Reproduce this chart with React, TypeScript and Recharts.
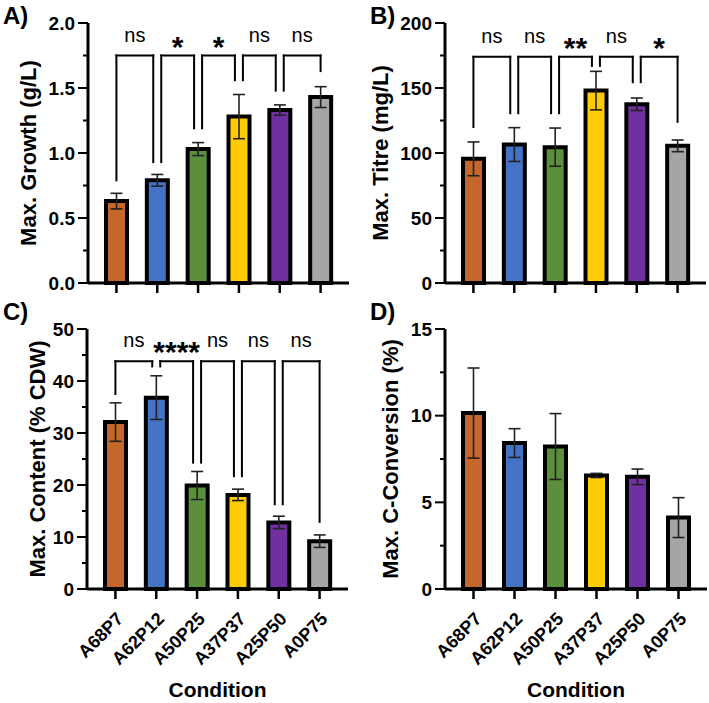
import React from "react";
import {
  BarChart,
  Bar,
  Cell,
  XAxis,
  YAxis,
  ErrorBar,
  ReferenceLine
} from "recharts";

const conditions = ["A68P7", "A62P12", "A50P25", "A37P37", "A25P50", "A0P75"];
const barColors = ["#c5672a", "#4472c4", "#5b8f3b", "#ffcb05", "#7030a0", "#a5a5a8"];

const growth = [0.63, 0.79, 1.03, 1.28, 1.33, 1.43];
const growthErr = [0.06, 0.045, 0.05, 0.17, 0.04, 0.08];
const growthTicks = [0, 0.25, 0.5, 0.75, 1, 1.25, 1.5, 1.75, 2];
const growthMajor = [0, 0.5, 1, 1.5, 2];
const growthSig = ["ns", "*", "*", "ns", "ns"];
const growthLegs = [[0.79, 0.93], [0.93, 1.19], [1.19, 1.56], [1.56, 1.48], [1.48, 1.63]];
const growthTop = 1.75;

const titre = [95.5, 106.5, 104.5, 148, 137.5, 105.5];
const titreErr = [13, 13, 14.7, 14.8, 4.8, 4.5];
const titreTicks = [0, 25, 50, 75, 100, 125, 150, 175, 200];
const titreMajor = [0, 50, 100, 150, 200];
const titreSig = ["ns", "ns", "**", "ns", "*"];
const titreLegs = [[120, 130.6], [130.6, 130.6], [130.6, 167], [167, 154.5], [154.5, 124]];
const titreTop = 174;

const content = [32.1, 36.8, 19.9, 18.1, 12.8, 9.2];
const contentErr = [3.7, 4.2, 2.7, 1.1, 1.2, 1.2];
const contentTicks = [0, 5, 10, 15, 20, 25, 30, 35, 40, 45, 50];
const contentMajor = [0, 10, 20, 30, 40, 50];
const contentSig = ["ns", "****", "ns", "ns", "ns"];
const contentLegs = [[37.5, 42.8], [42.8, 24.3], [24.3, 21.7], [21.7, 16.3], [16.3, 12.9]];
const contentTop = 43.8;

const conversion = [10.15, 8.42, 8.22, 6.55, 6.47, 4.12];
const conversionErr = [2.6, 0.83, 1.9, 0.12, 0.45, 1.15];
const conversionTicks = [0, 2.5, 5, 7.5, 10, 12.5, 15];
const conversionMajor = [0, 5, 10, 15];

const FONT = "'Liberation Sans', Arial, Helvetica, sans-serif";

const makeYTick = (major: number[], digits: number) => (props: any) => {
  const { x, y, payload } = props;
  const isMajor = major.includes(payload.value);
  return (
    <g>
      <line x1={x} x2={x - (isMajor ? 10 : 5)} y1={y} y2={y} stroke="#000" strokeWidth={2} />
      {isMajor && (
        <text
          x={x - 13}
          y={y}
          textAnchor="end"
          dominantBaseline="central"
          fontFamily={FONT}
          fontWeight="bold"
          fontSize={19}
          fill="#000"
        >
          {payload.value.toFixed(digits)}
        </text>
      )}
    </g>
  );
};

const RotTick = (props: any) => {
  const { x, y, payload } = props;
  const tx = x + 9;
  const ty = y + 21;
  return (
    <text
      x={tx}
      y={ty}
      textAnchor="end"
      transform={`rotate(-45 ${tx} ${ty})`}
      fontFamily={FONT}
      fontWeight="bold"
      fontSize={18}
      fill="#000"
    >
      {payload.value}
    </text>
  );
};

const NoTick = () => <g />;

const yTitle = (text: string, dx: number) => (props: any) => {
  const { viewBox } = props;
  const cx = viewBox.x + dx;
  const cy = viewBox.y + viewBox.height / 2;
  return (
    <text
      x={cx}
      y={cy}
      transform={`rotate(-90 ${cx} ${cy})`}
      textAnchor="middle"
      dominantBaseline="central"
      fontFamily={FONT}
      fontWeight="bold"
      fontSize={22}
      fill="#000"
    >
      {text}
    </text>
  );
};

const xTitle = (props: any) => {
  const { viewBox } = props;
  return (
    <text
      x={viewBox.x + viewBox.width / 2}
      y={viewBox.y + 108}
      textAnchor="middle"
      fontFamily={FONT}
      fontWeight="bold"
      fontSize={21}
      fill="#000"
    >
      Condition
    </text>
  );
};

function bracketLines(legs: number[][], sig: string[], top: number) {
  const out: any[] = [];
  legs.forEach(([l, r], i) => {
    const a = conditions[i];
    const b = conditions[i + 1];
    const dl = i > 0 ? 4 : 0;
    const dr = i < legs.length - 1 ? -4 : 0;
    out.push(
      <ReferenceLine
        key={`l${i}`}
        segment={[{ x: a, y: l }, { x: a, y: top }]}
        shape={(p: any) => (
          <line x1={p.x1 + dl} x2={p.x2 + dl} y1={p.y1} y2={p.y2} stroke="#000" strokeWidth={2} strokeLinecap="square" />
        )}
      />
    );
    out.push(
      <ReferenceLine
        key={`r${i}`}
        segment={[{ x: b, y: r }, { x: b, y: top }]}
        shape={(p: any) => (
          <line x1={p.x1 + dr} x2={p.x2 + dr} y1={p.y1} y2={p.y2} stroke="#000" strokeWidth={2} strokeLinecap="square" />
        )}
      />
    );
    const star = sig[i] !== "ns";
    out.push(
      <ReferenceLine
        key={`h${i}`}
        segment={[{ x: a, y: top }, { x: b, y: top }]}
        shape={(p: any) => {
          const x1 = p.x1 + dl;
          const x2 = p.x2 + dr;
          return (
            <g>
              <line x1={x1} x2={x2} y1={p.y1} y2={p.y2} stroke="#000" strokeWidth={2} strokeLinecap="square" />
              <text
                x={(x1 + x2) / 2}
                y={star ? p.y1 + 1 : p.y1 - 14}
                textAnchor="middle"
                fontFamily={FONT}
                fontWeight={star ? "bold" : "normal"}
                fontSize={star ? 30 : 20}
                fill="#000"
              >
                {sig[i]}
              </text>
            </g>
          );
        }}
      />
    );
  });
  return out;
}

interface PanelProps {
  values: number[];
  errs: number[];
  domain: [number, number];
  ticks: number[];
  major: number[];
  digits: number;
  title: string;
  titleDx: number;
  width: number;
  height: number;
  margin: { top: number; right: number; left: number; bottom: number };
  yWidth: number;
  xHeight: number;
  bottom: boolean;
  legs?: number[][];
  sig?: string[];
  top?: number;
}

const Panel = (p: PanelProps) => {
  const data = conditions.map((name, i) => ({ name, v: p.values[i], e: p.errs[i] }));
  return (
    <BarChart width={p.width} height={p.height} data={data} margin={p.margin}>
      <XAxis
        dataKey="name"
        interval={0}
        height={p.xHeight}
        padding={{ left: 8, right: 8 }}
        tickSize={10}
        tickMargin={0}
        tickLine={{ stroke: "#000", strokeWidth: 2.5 }}
        axisLine={{ stroke: "#000", strokeWidth: 3 }}
        tick={p.bottom ? RotTick : NoTick}
        label={p.bottom ? xTitle : undefined}
      />
      <XAxis xAxisId="top" dataKey="name" orientation="top" height={0} tick={false} tickLine={false} axisLine={{ stroke: "#000", strokeWidth: 2 }} />
      <YAxis
        domain={p.domain}
        ticks={p.ticks}
        interval={0}
        width={p.yWidth}
        tickSize={0}
        tickMargin={0}
        tickLine={false}
        axisLine={{ stroke: "#000", strokeWidth: 3 }}
        tick={makeYTick(p.major, p.digits)}
        label={yTitle(p.title, p.titleDx)}
      />
      <YAxis yAxisId="right" orientation="right" width={0} domain={p.domain} tick={false} tickLine={false} axisLine={{ stroke: "#000", strokeWidth: 2 }} />
      <Bar dataKey="v" barSize={21} stroke="#000" strokeWidth={4} isAnimationActive={false}>
        {data.map((d, i) => (
          <Cell key={d.name} fill={barColors[i]} />
        ))}
        <ErrorBar dataKey="e" width={6} stroke="#222" strokeWidth={1.6} isAnimationActive={false} />
      </Bar>
      {p.legs && p.sig && p.top !== undefined ? bracketLines(p.legs, p.sig, p.top) : null}
    </BarChart>
  );
};

const panelLabel = (text: string, left: number, top: number) => (
  <div
    style={{
      position: "absolute",
      left,
      top,
      fontFamily: FONT,
      fontWeight: "bold",
      fontSize: 24,
      lineHeight: "24px"
    }}
  >
    {text}
  </div>
);

export default function App() {
  return (
    <div style={{ position: "absolute", left: 0, top: 0, width: 709, height: 703, background: "#fff" }}>
      <div style={{ position: "absolute", left: 0, top: 0 }}>
        <Panel
          values={growth}
          errs={growthErr}
          domain={[0, 2]}
          ticks={growthTicks}
          major={growthMajor}
          digits={1}
          title="Max. Growth (g/L)"
          titleDx={28}
          width={360}
          height={330}
          margin={{ top: 23, right: 11, left: 0, bottom: 0 }}
          yWidth={88}
          xHeight={47}
          bottom={false}
          legs={growthLegs}
          sig={growthSig}
          top={growthTop}
        />
      </div>
      <div style={{ position: "absolute", left: 350, top: 0 }}>
        <Panel
          values={titre}
          errs={titreErr}
          domain={[0, 200]}
          ticks={titreTicks}
          major={titreMajor}
          digits={0}
          title="Max. Titre (mg/L)"
          titleDx={30}
          width={359}
          height={330}
          margin={{ top: 23, right: 3, left: 0, bottom: 0 }}
          yWidth={95}
          xHeight={47}
          bottom={false}
          legs={titreLegs}
          sig={titreSig}
          top={titreTop}
        />
      </div>
      <div style={{ position: "absolute", left: 0, top: 300 }}>
        <Panel
          values={content}
          errs={contentErr}
          domain={[0, 50]}
          ticks={contentTicks}
          major={contentMajor}
          digits={0}
          title="Max. Content (% CDW)"
          titleDx={37}
          width={360}
          height={403}
          margin={{ top: 29, right: 12, left: 0, bottom: 0 }}
          yWidth={87}
          xHeight={114}
          bottom={true}
          legs={contentLegs}
          sig={contentSig}
          top={contentTop}
        />
      </div>
      <div style={{ position: "absolute", left: 350, top: 300 }}>
        <Panel
          values={conversion}
          errs={conversionErr}
          domain={[0, 15]}
          ticks={conversionTicks}
          major={conversionMajor}
          digits={0}
          title="Max. C-Conversion (%)"
          titleDx={40}
          width={359}
          height={403}
          margin={{ top: 29, right: 2, left: 0, bottom: 0 }}
          yWidth={95}
          xHeight={114}
          bottom={true}
        />
      </div>
      {panelLabel("A)", 3, 4)}
      {panelLabel("B)", 370, 4)}
      {panelLabel("C)", 3, 300)}
      {panelLabel("D)", 370, 300)}
    </div>
  );
}
